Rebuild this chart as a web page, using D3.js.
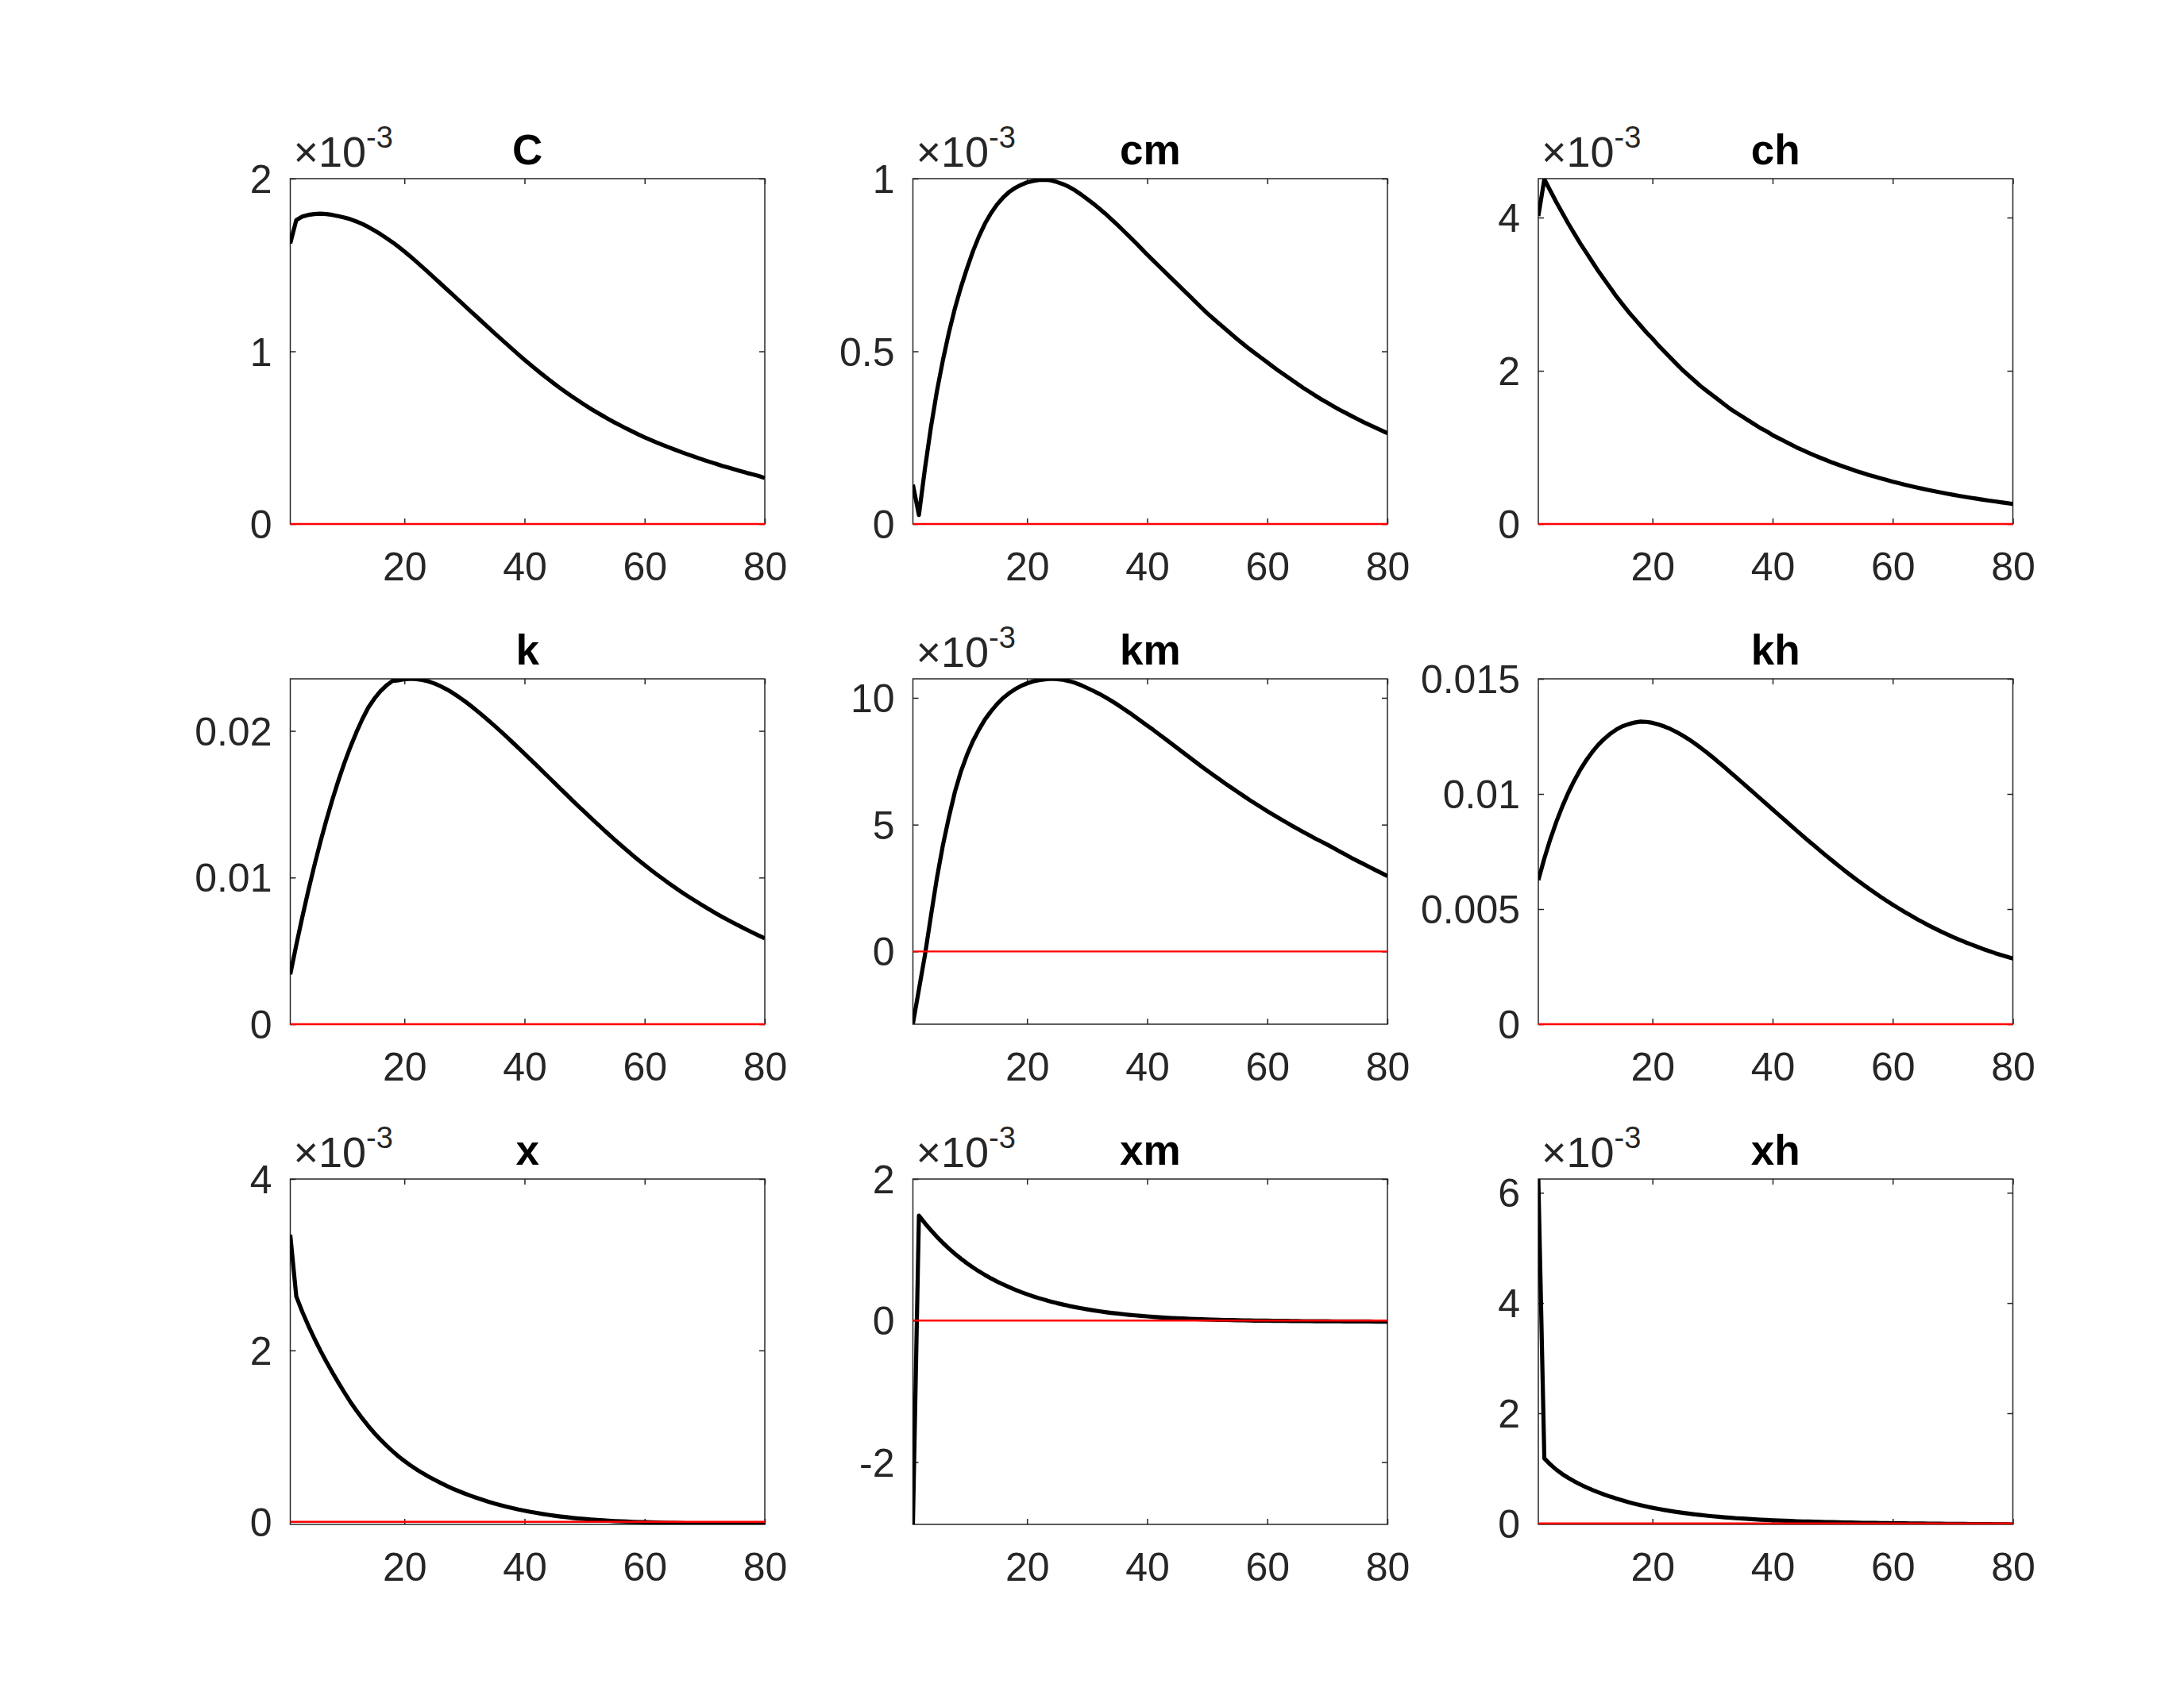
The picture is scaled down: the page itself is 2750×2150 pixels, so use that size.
<!DOCTYPE html>
<html>
<head>
<meta charset="utf-8">
<script src="https://cdn.jsdelivr.net/npm/d3@7"></script>
<style>
  body { margin: 0; background: #ffffff; }
  svg { display: block; }
  text { font-family: "Liberation Sans", Arial, Helvetica, sans-serif; }
</style>
</head>
<body>
<svg id="chart" width="2750" height="2150"></svg>
<script>
// ---------------- DATA ----------------
const titles = ["C", "cm", "ch", "k", "km", "kh", "x", "xm", "xh"];
// power of ten shown above each panel (0 = none); series below are stored in those units
const exponents = [-3, -3, -3, 0, -3, 0, -3, -3, -3];
const yLimits = [[0, 2], [0, 1], [0, 4.508], [0, 0.02355], [-2.87, 10.75], [0, 0.015], [-0.03, 4], [-2.88, 2], [-0.017, 6.25]];
const yTicks = [[0, 1, 2], [0, 0.5, 1], [0, 2, 4], [0, 0.01, 0.02], [0, 5, 10], [0, 0.005, 0.01, 0.015], [0, 2, 4], [-2, 0, 2], [0, 2, 4, 6]];
const yTickLabels = [["0", "1", "2"], ["0", "0.5", "1"], ["0", "2", "4"], ["0", "0.01", "0.02"], ["0", "5", "10"],
  ["0", "0.005", "0.01", "0.015"], ["0", "2", "4"], ["-2", "0", "2"], ["0", "2", "4", "6"]];
const xLimits = [1, 80];
const xTicks = [20, 40, 60, 80];
const xTickLabels = ["20", "40", "60", "80"];
const periods = d3.range(1, 81);
const zeroLine = [0, 0];

const C = [1.625, 1.76, 1.78, 1.79, 1.795, 1.797, 1.795, 1.79, 1.783, 1.775,
  1.765, 1.752, 1.737, 1.72, 1.70, 1.679, 1.656, 1.632, 1.606, 1.578,
  1.549, 1.519, 1.488, 1.457, 1.425, 1.393, 1.361, 1.329, 1.297, 1.265,
  1.233, 1.201, 1.169, 1.137, 1.105, 1.074, 1.043, 1.012, 0.981, 0.951,
  0.922, 0.893, 0.865, 0.838, 0.811, 0.785, 0.76, 0.736, 0.713, 0.69,
  0.668, 0.647, 0.627, 0.607, 0.588, 0.57, 0.552, 0.535, 0.518, 0.502,
  0.487, 0.472, 0.458, 0.444, 0.431, 0.418, 0.405, 0.393, 0.381, 0.369,
  0.358, 0.347, 0.336, 0.326, 0.316, 0.306, 0.296, 0.287, 0.278, 0.266];

const cm = [0.114, 0.026, 0.16, 0.28, 0.385, 0.475, 0.555, 0.625, 0.686, 0.74,
  0.79, 0.833, 0.87, 0.9, 0.925, 0.945, 0.961, 0.973, 0.982, 0.989,
  0.993, 0.996, 0.997, 0.995, 0.99, 0.984, 0.976, 0.966, 0.954, 0.941,
  0.928, 0.914, 0.899, 0.883, 0.867, 0.85, 0.833, 0.816, 0.798, 0.78,
  0.763, 0.746, 0.729, 0.712, 0.695, 0.678, 0.661, 0.644, 0.627, 0.61,
  0.595, 0.58, 0.565, 0.55, 0.535, 0.521, 0.507, 0.494, 0.481, 0.468,
  0.455, 0.442, 0.43, 0.418, 0.406, 0.394, 0.383, 0.372, 0.361, 0.351,
  0.341, 0.331, 0.322, 0.313, 0.304, 0.295, 0.287, 0.279, 0.271, 0.263];

const ch = [4.02, 4.50, 4.35, 4.20, 4.06, 3.92, 3.79, 3.66, 3.54, 3.42,
  3.30, 3.19, 3.08, 2.97, 2.87, 2.77, 2.68, 2.59, 2.50, 2.42,
  2.33, 2.25, 2.17, 2.09, 2.01, 1.94, 1.87, 1.80, 1.74, 1.68,
  1.62, 1.56, 1.50, 1.45, 1.40, 1.35, 1.30, 1.25, 1.21, 1.16,
  1.12, 1.08, 1.04, 1.00, 0.965, 0.93, 0.895, 0.863, 0.832, 0.80,
  0.772, 0.744, 0.717, 0.69, 0.665, 0.641, 0.618, 0.596, 0.574, 0.553,
  0.533, 0.514, 0.495, 0.477, 0.46, 0.443, 0.427, 0.412, 0.397, 0.382,
  0.368, 0.355, 0.342, 0.33, 0.318, 0.306, 0.295, 0.284, 0.274, 0.262];

const k = [0.0034, 0.0054, 0.0073, 0.0091, 0.0108, 0.0124, 0.0139, 0.0153, 0.0166, 0.0178,
  0.0189, 0.0199, 0.0208, 0.0216, 0.0222, 0.0227, 0.0231, 0.0234, 0.02345, 0.02352,
  0.02355, 0.02353, 0.02347, 0.02337, 0.02323, 0.02305, 0.02284, 0.0226, 0.02233, 0.02204,
  0.02173, 0.0214, 0.02106, 0.02071, 0.02035, 0.01998, 0.0196, 0.01922, 0.01883, 0.01844,
  0.01805, 0.01765, 0.01725, 0.01685, 0.01645, 0.01605, 0.01565, 0.01525, 0.01486, 0.01447,
  0.01408, 0.0137, 0.01332, 0.01295, 0.01258, 0.01222, 0.01187, 0.01152, 0.01118, 0.01085,
  0.01053, 0.01022, 0.00992, 0.00962, 0.00933, 0.00905, 0.00878, 0.00852, 0.00826, 0.00801,
  0.00777, 0.00753, 0.0073, 0.00708, 0.00686, 0.00665, 0.00644, 0.00624, 0.00604, 0.00585];

const km = [-2.85, -1.5, -0.15, 1.4, 2.9, 4.2, 5.3, 6.3, 7.1, 7.75,
  8.3, 8.75, 9.15, 9.47, 9.75, 9.99, 10.18, 10.34, 10.47, 10.57,
  10.65, 10.7, 10.73, 10.75, 10.74, 10.71, 10.66, 10.59, 10.5, 10.39,
  10.28, 10.16, 10.03, 9.89, 9.74, 9.58, 9.42, 9.25, 9.08, 8.91,
  8.74, 8.56, 8.38, 8.2, 8.02, 7.84, 7.66, 7.48, 7.3, 7.13,
  6.96, 6.79, 6.62, 6.46, 6.3, 6.14, 5.98, 5.83, 5.68, 5.53,
  5.39, 5.25, 5.11, 4.97, 4.84, 4.71, 4.58, 4.45, 4.33, 4.21,
  4.08, 3.95, 3.82, 3.69, 3.57, 3.45, 3.33, 3.21, 3.09, 2.97];

const kh = [0.00626, 0.0072, 0.00804, 0.00879, 0.00946, 0.01006, 0.01059, 0.01106, 0.01147, 0.01183,
  0.01214, 0.0124, 0.01262, 0.0128, 0.01294, 0.01303, 0.0131, 0.01314, 0.01313, 0.01309,
  0.01302, 0.01293, 0.01282, 0.01269, 0.01254, 0.01238, 0.0122, 0.01201, 0.01181, 0.0116,
  0.01138, 0.01116, 0.01093, 0.01071, 0.01048, 0.01025, 0.01002, 0.00979, 0.00956, 0.00933,
  0.0091, 0.00887, 0.00864, 0.00841, 0.00818, 0.00796, 0.00774, 0.00752, 0.0073, 0.00709,
  0.00688, 0.00667, 0.00647, 0.00627, 0.00608, 0.00589, 0.00571, 0.00553, 0.00536, 0.00519,
  0.00503, 0.00487, 0.00472, 0.00457, 0.00443, 0.00429, 0.00416, 0.00403, 0.00391, 0.00379,
  0.00368, 0.00357, 0.00347, 0.00337, 0.00327, 0.00318, 0.00309, 0.00301, 0.00293, 0.00285];

const x = [3.35, 2.63, 2.45, 2.29, 2.14, 2.0, 1.87, 1.745, 1.625, 1.51,
  1.40, 1.30, 1.205, 1.117, 1.035, 0.96, 0.89, 0.826, 0.765, 0.71,
  0.659, 0.612, 0.569, 0.529, 0.491, 0.455, 0.421, 0.389, 0.359, 0.331,
  0.305, 0.28, 0.257, 0.235, 0.214, 0.195, 0.177, 0.16, 0.144, 0.13,
  0.116, 0.104, 0.092, 0.081, 0.071, 0.062, 0.054, 0.046, 0.039, 0.033,
  0.027, 0.022, 0.017, 0.013, 0.009, 0.006, 0.003, 0.0, -0.002, -0.004,
  -0.006, -0.008, -0.01, -0.012, -0.013, -0.015, -0.016, -0.017, -0.018, -0.019,
  -0.02, -0.021, -0.022, -0.023, -0.024, -0.025, -0.026, -0.027, -0.028, -0.029];

const xm = [-2.88, 1.483, 1.375, 1.276, 1.183, 1.097, 1.017, 0.943, 0.874, 0.81,
  0.75, 0.695, 0.644, 0.596, 0.552, 0.511, 0.473, 0.437, 0.403, 0.372,
  0.343, 0.316, 0.291, 0.268, 0.246, 0.226, 0.207, 0.19, 0.174, 0.159,
  0.145, 0.132, 0.12, 0.109, 0.099, 0.09, 0.081, 0.073, 0.066, 0.059,
  0.053, 0.047, 0.042, 0.037, 0.033, 0.029, 0.025, 0.022, 0.019, 0.016,
  0.013, 0.011, 0.009, 0.007, 0.005, 0.003, 0.002, 0.0, -0.001, -0.002,
  -0.003, -0.004, -0.005, -0.006, -0.007, -0.008, -0.008, -0.009, -0.01, -0.01,
  -0.011, -0.011, -0.012, -0.012, -0.013, -0.013, -0.013, -0.014, -0.014, -0.014];

const xh = [6.25, 1.18, 1.07, 0.975, 0.895, 0.825, 0.763, 0.707, 0.656, 0.609,
  0.565, 0.524, 0.486, 0.451, 0.418, 0.387, 0.358, 0.332, 0.307, 0.284,
  0.263, 0.244, 0.226, 0.209, 0.194, 0.179, 0.166, 0.153, 0.142, 0.131,
  0.121, 0.112, 0.103, 0.095, 0.088, 0.081, 0.075, 0.069, 0.063, 0.058,
  0.053, 0.049, 0.045, 0.041, 0.037, 0.034, 0.031, 0.028, 0.025, 0.023,
  0.02, 0.018, 0.016, 0.014, 0.012, 0.01, 0.009, 0.007, 0.006, 0.004,
  0.003, 0.002, 0.001, 0.0, -0.002, -0.003, -0.004, -0.005, -0.006, -0.007,
  -0.008, -0.009, -0.01, -0.011, -0.012, -0.013, -0.014, -0.015, -0.016, -0.017];

const seriesList = [C, cm, ch, k, km, kh, x, xm, xh];

// ---------------- LAYOUT ----------------
const colLeft = [365.5, 1149.5, 1937];
const rowTop = [225, 855, 1485];
const W = 597.5, H = 435;
const axisColor = "#262626";
const tickFont = 50, titleFont = 53;

const svg = d3.select("#chart");
svg.append("rect").attr("width", 2750).attr("height", 2150).attr("fill", "#ffffff");

titles.forEach((title, i) => {
  const left = colLeft[i % 3], top = rowTop[Math.floor(i / 3)];
  const xs = d3.scaleLinear().domain(xLimits).range([left, left + W]);
  const ys = d3.scaleLinear().domain(yLimits[i]).range([top + H, top]);
  const g = svg.append("g").attr("class", "panel");

  const clipId = "clip" + i;
  g.append("clipPath").attr("id", clipId)
    .append("rect").attr("x", left).attr("y", top).attr("width", W).attr("height", H);

  // axes box
  g.append("rect").attr("x", left).attr("y", top).attr("width", W).attr("height", H)
    .attr("fill", "none").attr("stroke", axisColor).attr("stroke-width", 1.5);

  // ticks (inward, all four sides)
  const styleAxis = sel => {
    sel.select(".domain").remove();
    sel.selectAll(".tick line").attr("stroke", axisColor).attr("stroke-width", 1.5);
    sel.selectAll(".tick text").attr("fill", axisColor).attr("font-size", tickFont)
      .attr("font-family", "Liberation Sans, Arial, Helvetica, sans-serif");
  };
  const yl = yTickLabels[i];
  g.append("g").attr("transform", `translate(${left},0)`)
    .call(d3.axisLeft(ys).tickValues(yTicks[i]).tickSize(-7).tickPadding(23)
      .tickFormat((d, j) => yl[j]))
    .call(styleAxis)
    .call(s => s.selectAll(".tick text").attr("dy", "0.35em"));
  g.append("g").attr("transform", `translate(${left + W},0)`)
    .call(d3.axisRight(ys).tickValues(yTicks[i]).tickSize(-7).tickFormat(""))
    .call(styleAxis);
  g.append("g").attr("transform", `translate(0,${top + H})`)
    .call(d3.axisBottom(xs).tickValues(xTicks).tickSize(-7).tickPadding(35)
      .tickFormat((d, j) => xTickLabels[j]))
    .call(styleAxis);
  g.append("g").attr("transform", `translate(0,${top})`)
    .call(d3.axisTop(xs).tickValues(xTicks).tickSize(-7).tickFormat(""))
    .call(styleAxis);

  // response line
  const values = seriesList[i];
  const line = d3.line().x((d, j) => xs(periods[j])).y(d => ys(d));
  g.append("path").datum(values).attr("d", line)
    .attr("clip-path", `url(#${clipId})`)
    .attr("fill", "none").attr("stroke", "#000000").attr("stroke-width", 5.2)
    .attr("stroke-linejoin", "round");

  // zero line
  const zline = d3.line().x((d, j) => xs(xLimits[j])).y(d => ys(d));
  g.append("path").datum(zeroLine).attr("d", zline)
    .attr("fill", "none").attr("stroke", "#ff0000").attr("stroke-width", 2.4);

  // title
  g.append("text").attr("x", left + W / 2).attr("y", top - 18)
    .attr("text-anchor", "middle").attr("font-size", titleFont).attr("font-weight", "bold")
    .attr("fill", "#000000").text(title);

  // exponent label
  if (exponents[i] !== 0) {
    const t = g.append("text").attr("x", left + 4).attr("y", top - 15)
      .attr("font-size", 54).attr("fill", axisColor);
    t.append("tspan").text("\u00D710");
    t.append("tspan").attr("font-size", 38).attr("dy", -24).text(String(exponents[i]));
  }
});
</script>
</body>
</html>
